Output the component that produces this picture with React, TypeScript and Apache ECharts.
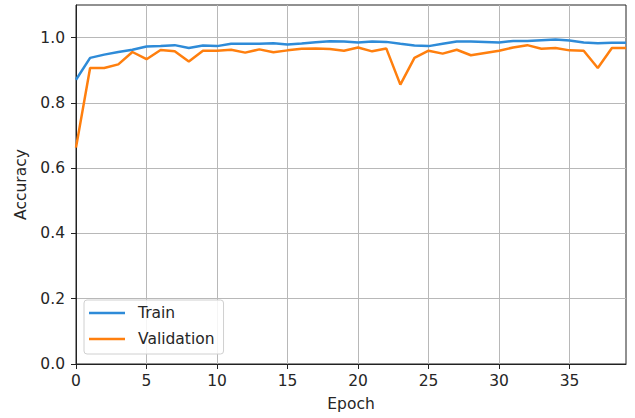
import React, { useEffect, useRef } from "react";
import * as echarts from "echarts";

const epochs: number[] = Array.from({ length: 40 }, (_, i) => i);
const trainAcc: number[] = [
  0.871, 0.938, 0.948, 0.956, 0.963, 0.973, 0.974, 0.977, 0.968, 0.976,
  0.974, 0.981, 0.981, 0.981, 0.983, 0.979, 0.982, 0.986, 0.989, 0.988,
  0.985, 0.988, 0.987, 0.981, 0.976, 0.974, 0.981, 0.988, 0.988, 0.987,
  0.985, 0.99, 0.99, 0.992, 0.994, 0.991, 0.985, 0.983, 0.984, 0.984,
];
const valAcc: number[] = [
  0.663, 0.907, 0.907, 0.918, 0.956, 0.934, 0.962, 0.958, 0.927, 0.96,
  0.96, 0.963, 0.954, 0.964, 0.955, 0.961, 0.966, 0.967, 0.965, 0.96,
  0.97, 0.958, 0.967, 0.856, 0.938, 0.96, 0.951, 0.963, 0.946, 0.953,
  0.96, 0.97, 0.977, 0.966, 0.968, 0.961, 0.96, 0.907, 0.968, 0.968,
];
const xTicks: number[] = [0, 5, 10, 15, 20, 25, 30, 35];
const yTicks: number[] = [0, 0.2, 0.4, 0.6, 0.8, 1.0];

const FONT = "DejaVu Sans";
const TXT = "#262626";
const FS = 15.5;

export default function App() {
  const ref = useRef<HTMLDivElement>(null);
  useEffect(() => {
    if (!ref.current) return;
    const chart = echarts.init(ref.current, undefined, { renderer: "svg" });
    chart.setOption({
      animation: false,
      backgroundColor: "#ffffff",
      textStyle: { fontFamily: FONT },
      grid: {
        left: 76,
        right: 9,
        top: 5,
        bottom: 54,
        show: true,
        borderColor: "#222",
        borderWidth: 1,
      },
      legend: {
        orient: "vertical",
        left: 84,
        top: 300,
        padding: [4, 9, 6, 5],
        itemGap: 8,
        itemWidth: 36,
        itemHeight: 2.5,
        icon: "rect",
        backgroundColor: "rgba(255,255,255,0.85)",
        borderColor: "#d0d0d0",
        borderWidth: 1,
        borderRadius: 3,
        textStyle: {
          fontFamily: FONT,
          fontSize: FS,
          color: TXT,
          lineHeight: 18,
          padding: [0, 0, 0, 8],
        },
        data: ["Train", "Validation"],
      },
      xAxis: {
        type: "value",
        min: 0,
        max: 39,
        interval: 5,
        name: "Epoch",
        nameLocation: "middle",
        nameGap: 32,
        nameTextStyle: { fontFamily: FONT, fontSize: FS, color: TXT },
        axisLine: { show: true, onZero: false, lineStyle: { color: "#222", width: 1 } },
        axisTick: { show: true, inside: false, length: 5, customValues: xTicks, lineStyle: { color: "#222" } },
        axisLabel: {
          fontFamily: FONT,
          fontSize: FS,
          color: TXT,
          margin: 9,
          customValues: xTicks,
        },
        splitLine: { show: true, lineStyle: { color: "#b8b8b8", width: 1 } },
      },
      yAxis: {
        type: "value",
        min: 0,
        max: 1.1,
        interval: 0.2,
        name: "Accuracy",
        nameLocation: "middle",
        nameGap: 46,
        nameTextStyle: { fontFamily: FONT, fontSize: FS, color: TXT },
        axisLine: { show: true, lineStyle: { color: "#222", width: 1 } },
        axisTick: { show: true, inside: false, length: 5, customValues: yTicks, lineStyle: { color: "#222" } },
        axisLabel: {
          fontFamily: FONT,
          fontSize: FS,
          color: TXT,
          margin: 11,
          customValues: yTicks,
          formatter: (v: number) => (v > 1.05 ? "" : v.toFixed(1)),
        },
        splitLine: { show: true, lineStyle: { color: "#b8b8b8", width: 1 } },
      },
      series: [
        {
          name: "Train",
          type: "line",
          symbol: "none",
          data: epochs.map((e, i) => [e, trainAcc[i]]),
          lineStyle: { color: "#2e8bd8", width: 2.5 },
          itemStyle: { color: "#2e8bd8" },
        },
        {
          name: "Validation",
          type: "line",
          symbol: "none",
          data: epochs.map((e, i) => [e, valAcc[i]]),
          lineStyle: { color: "#ff7f0e", width: 2.5 },
          itemStyle: { color: "#ff7f0e" },
        },
      ],
    });
    return () => chart.dispose();
  }, []);
  return (
    <div
      ref={ref}
      style={{ position: "absolute", left: 0, top: 0, width: 635, height: 418 }}
    />
  );
}
